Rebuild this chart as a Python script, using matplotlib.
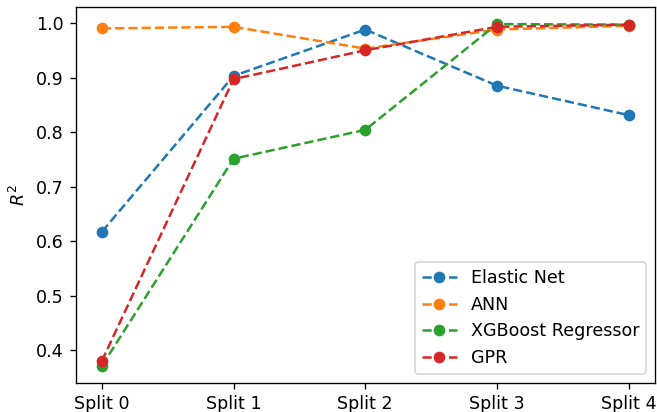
import matplotlib
matplotlib.use('Agg')
import matplotlib.pyplot as plt

splits = ['Split 0', 'Split 1', 'Split 2', 'Split 3', 'Split 4']
elastic_net = [0.617, 0.903, 0.988, 0.885, 0.831]
ann = [0.990, 0.993, 0.953, 0.988, 0.995]
xgboost = [0.371, 0.751, 0.804, 0.998, 0.997]
gpr = [0.380, 0.897, 0.950, 0.993, 0.997]

plt.rcParams['font.size'] = 10.5

fig = plt.figure(figsize=(657 / 120, 412 / 120), dpi=120)
ax = fig.add_axes([75.5 / 657, 29 / 412, (655 - 75.5) / 657, (383 - 7) / 412])

ax.plot(splits, elastic_net, 'o--', label='Elastic Net')
ax.plot(splits, ann, 'o--', label='ANN')
ax.plot(splits, xgboost, 'o--', label='XGBoost Regressor')
ax.plot(splits, gpr, 'o--', label='GPR')

ax.set_ylabel('$R^2$')
ax.legend(loc='lower right')

fig.savefig('out.png', dpi=120)
